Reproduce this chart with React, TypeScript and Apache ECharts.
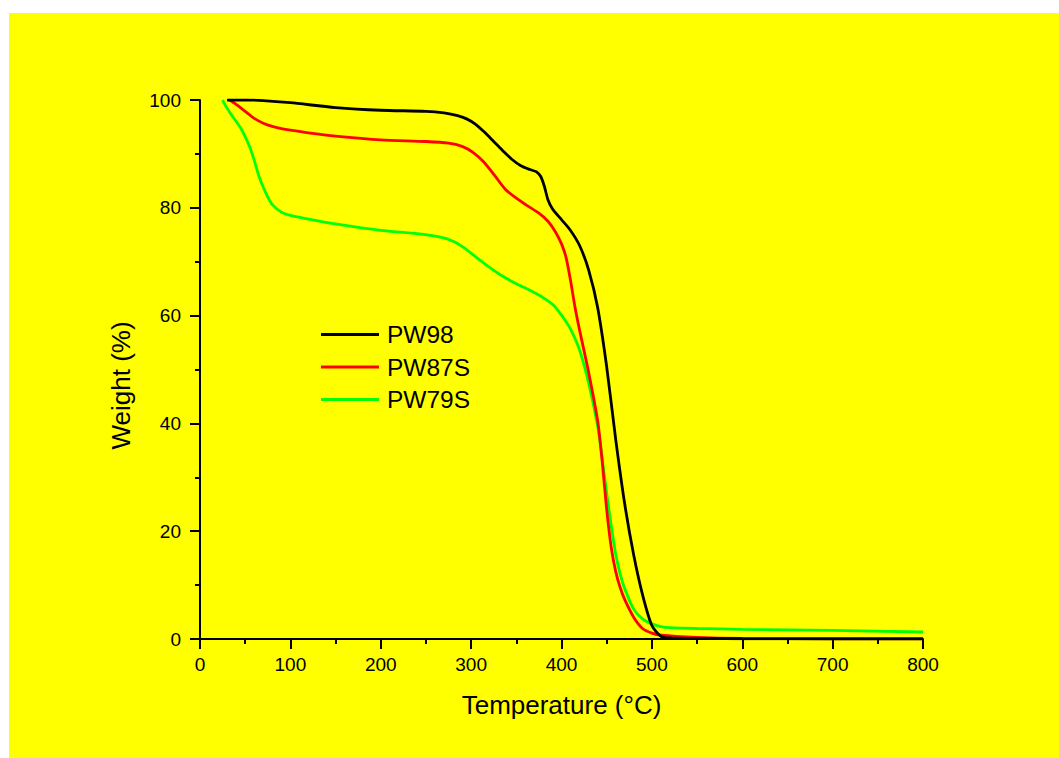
import React, { useEffect, useRef } from "react";
import * as echarts from "echarts";

const seriesNames = ["PW98", "PW87S", "PW79S"];
const seriesColors = ["#000000", "#ff0000", "#00ff00"];

const pw98T = [30, 50, 70, 100, 150, 200, 250, 270, 285, 295, 305, 315, 325, 335, 345, 355, 365, 372, 377, 381, 385, 390, 400, 410, 420, 430, 440, 450, 460, 470, 480, 490, 500, 510, 520, 560, 600, 700, 800];
const pw98W = [100, 100, 99.9, 99.5, 98.6, 98.1, 97.9, 97.6, 97.1, 96.5, 95.5, 94, 92.3, 90.6, 89, 87.8, 87.1, 86.7, 85.8, 84, 81.5, 79.8, 77.8, 75.8, 73, 68.5, 61.5, 50.5, 37, 25, 15.5, 8, 2.5, 0.5, 0.2, 0.1, 0.05, 0, 0];

const pw87T = [33, 40, 50, 60, 70, 80, 90, 100, 120, 150, 200, 250, 275, 290, 302, 314, 326, 338, 350, 362, 375, 385, 393, 400, 405, 410, 415, 420, 430, 440, 445, 450, 455, 460, 465, 470, 480, 490, 500, 510, 550, 600, 700, 800];
const pw87W = [100, 99.2, 97.9, 96.6, 95.7, 95.1, 94.7, 94.4, 93.9, 93.3, 92.6, 92.3, 92, 91.4, 90.3, 88.5, 86, 83.4, 81.8, 80.4, 79, 77.5, 75.6, 73.3, 70.8, 66.5, 61.5, 57.3, 49.5, 40.5, 33, 24, 17, 12.5, 9.5, 7.3, 4, 1.9, 1.1, 0.7, 0.3, 0.1, 0.05, 0.05];

const pw79T = [25, 28, 35, 45, 55, 60, 65, 70, 75, 80, 90, 100, 120, 150, 200, 240, 265, 280, 292, 305, 320, 335, 350, 365, 380, 392, 402, 410, 420, 430, 440, 445, 450, 455, 460, 465, 470, 480, 490, 500, 510, 520, 550, 600, 700, 800];
const pw79W = [100, 99, 97.2, 94.8, 91.3, 88.8, 86, 83.8, 82, 80.6, 79.2, 78.6, 77.9, 77, 75.8, 75.2, 74.6, 73.8, 72.6, 70.9, 69, 67.3, 65.9, 64.7, 63.3, 61.8, 59.6, 57.5, 53.6, 47.5, 39.5, 33.5, 27, 21, 15.7, 12, 9.3, 5.5, 3.7, 2.8, 2.3, 2.1, 1.95, 1.8, 1.6, 1.3];

const xTicks = { min: 0, max: 800, interval: 100 };
const yTicks = { min: 0, max: 100, interval: 20 };

const zip = (t: number[], w: number[]) => t.map((v, i) => [v, w[i]]);

export default function App() {
  const ref = useRef<HTMLDivElement>(null);
  useEffect(() => {
    if (!ref.current) return;
    const chart = echarts.init(ref.current, undefined, { renderer: "svg" });
    const font = "Liberation Sans, Arial, sans-serif";
    const data = [zip(pw98T, pw98W), zip(pw87T, pw87W), zip(pw79T, pw79W)];
    chart.setOption({
      animation: false,
      backgroundColor: "#ffffff",
      graphic: [
        {
          type: "rect",
          z: -100,
          silent: true,
          shape: { x: 9, y: 13, width: 1050, height: 745 },
          style: { fill: "#ffff00" },
        },
      ],
      grid: { left: 200, top: 100, width: 723, height: 539, containLabel: false },
      legend: {
        orient: "vertical",
        left: 321,
        top: 322,
        padding: 0,
        itemWidth: 58,
        itemHeight: 3,
        itemGap: 7.5,
        icon: "rect",
        data: seriesNames,
        textStyle: { fontFamily: font, fontSize: 24.5, color: "#000", padding: [0, 0, 0, 3] },
      },
      xAxis: {
        type: "value",
        min: xTicks.min,
        max: xTicks.max,
        interval: xTicks.interval,
        name: "Temperature (°C)",
        nameLocation: "middle",
        nameGap: 53,
        nameTextStyle: { fontFamily: font, fontSize: 26, color: "#000" },
        axisLine: { show: true, onZero: false, lineStyle: { color: "#000", width: 2 } },
        axisTick: { show: true, inside: false, length: 10, lineStyle: { color: "#000", width: 2 } },
        minorTick: { show: true, splitNumber: 2, length: 5, lineStyle: { color: "#000", width: 2 } },
        axisLabel: { fontFamily: font, fontSize: 19, color: "#000", margin: 16 },
        splitLine: { show: false },
      },
      yAxis: {
        type: "value",
        min: yTicks.min,
        max: yTicks.max,
        interval: yTicks.interval,
        name: "Weight (%)",
        nameLocation: "middle",
        nameGap: 66,
        nameTextStyle: { fontFamily: font, fontSize: 26, color: "#000", padding: [0, 32, 0, 0] },
        axisLine: { show: true, onZero: false, lineStyle: { color: "#000", width: 2 } },
        axisTick: { show: true, inside: false, length: 10, lineStyle: { color: "#000", width: 2 } },
        minorTick: { show: true, splitNumber: 2, length: 5, lineStyle: { color: "#000", width: 2 } },
        axisLabel: { fontFamily: font, fontSize: 19, color: "#000", margin: 19 },
        splitLine: { show: false },
      },
      series: seriesNames.map((name, i) => ({
        name,
        type: "line",
        data: data[i],
        showSymbol: false,
        symbol: "none",
        smooth: 0.25,
        color: seriesColors[i],
        lineStyle: { color: seriesColors[i], width: 2.8 },
        z: 3 - i,
      })),
    });
    return () => chart.dispose();
  }, []);
  return (
    <div
      ref={ref}
      style={{ position: "absolute", left: 0, top: 0, width: 1059, height: 758 }}
    />
  );
}
